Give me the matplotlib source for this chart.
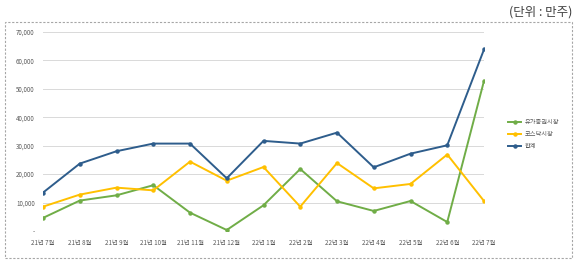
import matplotlib
matplotlib.use('Agg')
import matplotlib.pyplot as plt
from matplotlib.patches import Rectangle

plt.rcParams['font.family'] = ['Noto Sans CJK KR', 'DejaVu Sans']

# ── Data ─────────────────────────────────────────────────────────────────────
months = ['21년 7월', '21년 8월', '21년 9월', '21년 10월', '21년 11월', '21년 12월',
          '22년 1월', '22년 2월', '22년 3월', '22년 4월', '22년 5월', '22년 6월', '22년 7월']
kospi = [4600, 10700, 12550, 16100, 6450, 350, 9050, 21800, 10450, 7050, 10550, 3150, 52800]
kosdaq = [8560, 12800, 15250, 14300, 24400, 17700, 22500, 8560, 23900, 15000, 16550, 26900, 10550]
total = [13500, 23700, 28060, 30750, 30750, 18550, 31700, 30750, 34600, 22400, 27200, 30150, 63850]
yticks = [0, 10000, 20000, 30000, 40000, 50000, 60000, 70000]
ytick_labels = ['-', '10,000', '20,000', '30,000', '40,000', '50,000', '60,000', '70,000']

series = [
    ('유가증권시장', kospi, '#70AD47'),
    ('코스닥시장', kosdaq, '#FFC000'),
    ('합계', total, '#2E5D8C'),
]

# ── Plot ─────────────────────────────────────────────────────────────────────
W, H = 580, 262
fig = plt.figure(figsize=(W / 100, H / 100), dpi=100)

# dashed outer frame
fig.patches.append(Rectangle((5 / W, 1 - 258 / H), 567 / W, 236 / H,
                             transform=fig.transFigure, fill=False,
                             ec='#A6A6A6', lw=0.8, ls=(0, (2, 1.5))))
fig.text(572 / W, 1 - 12 / H, '(단위 : 만주)', ha='right', va='center',
         fontsize=9, color='#404040')

ax = fig.add_axes([43 / W, 1 - 231 / H, (484 - 43) / W, (231 - 32) / H])
x = list(range(len(months)))
for name, vals, col in series:
    ax.plot(x, vals, color=col, lw=1.4, marker='o', ms=2.2, label=name)

ax.set_xlim(0, len(months) - 1)
ax.set_ylim(0, 70000)
ax.set_yticks(yticks)
ax.set_yticklabels(ytick_labels)
ax.set_xticks(x)
ax.set_xticklabels(months)
ax.tick_params(length=0, labelsize=4.5, labelcolor='#595959', pad=6)
ax.grid(axis='y', color='#D9D9D9', lw=0.7)
ax.set_axisbelow(True)
for s in ax.spines.values():
    s.set_visible(False)

leg = fig.legend(loc='center left', bbox_to_anchor=(502 / W, 1 - 134 / H),
                 frameon=False, fontsize=4.5, handlelength=2.2,
                 labelspacing=0.6, handletextpad=0.5)
for t in leg.get_texts():
    t.set_color('#595959')

fig.savefig('out.png', dpi=100)
